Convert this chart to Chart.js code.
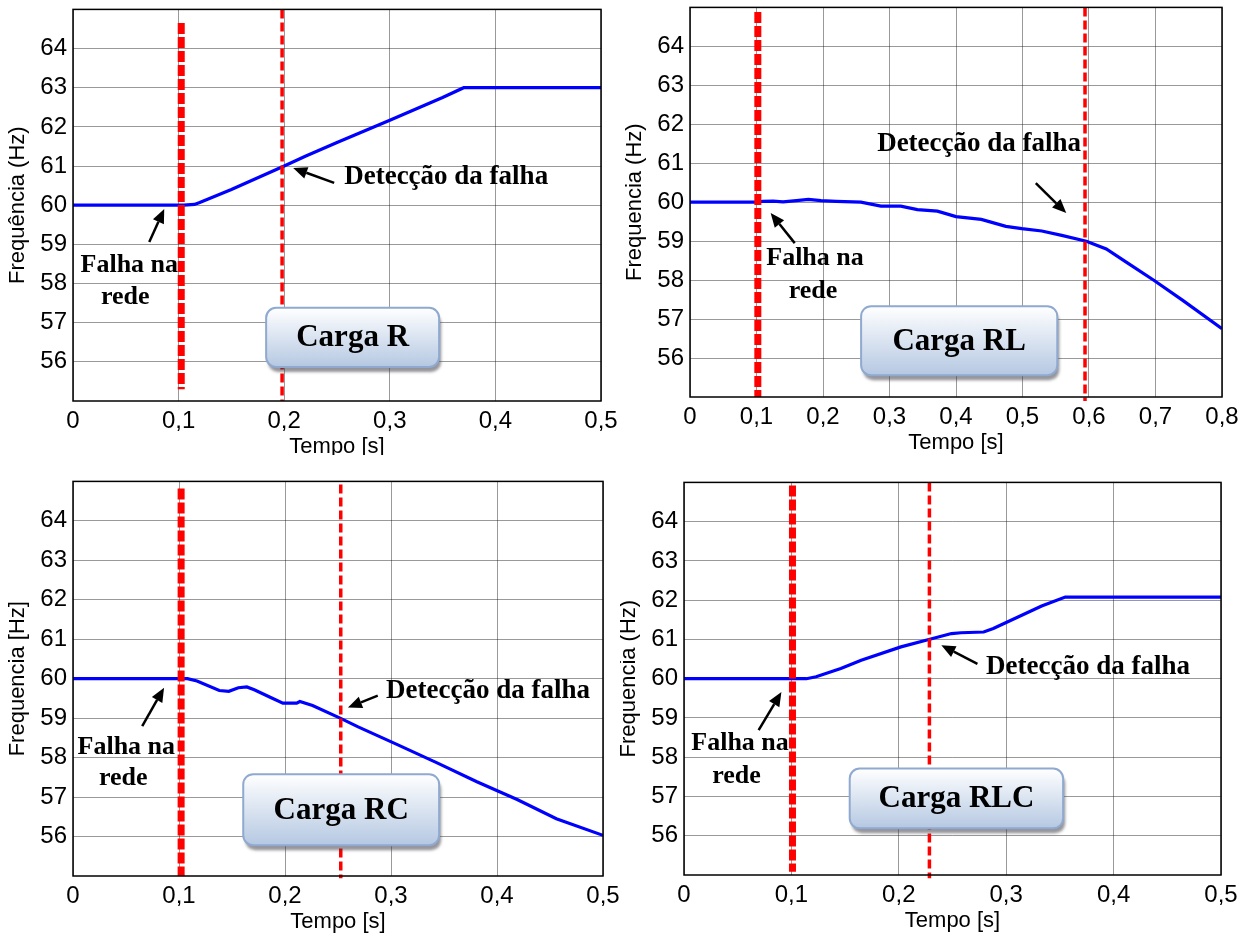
<!DOCTYPE html>
<html>
<head>
<meta charset="utf-8">
<script src="https://cdn.jsdelivr.net/npm/chart.js@4.4.1/dist/chart.umd.min.js"></script>
<style>
  body { margin: 0; background: #fff; width: 1246px; height: 935px; position: relative; overflow: hidden; }
  .panel { position: absolute; }
</style>
</head>
<body>
<div class="panel" style="left:0;top:-11px;width:625px;height:466px"><canvas id="c1"></canvas></div>
<div class="panel" style="left:620px;top:-13px;width:626px;height:473px"><canvas id="c2"></canvas></div>
<div class="panel" style="left:0;top:461px;width:627px;height:474px"><canvas id="c3"></canvas></div>
<div class="panel" style="left:620px;top:462px;width:626px;height:473px"><canvas id="c4"></canvas></div>
<script>
// frequency curves (time in s, frequency in Hz)
const tR = [0, 0.1, 0.105, 0.115, 0.12, 0.15, 0.2, 0.22, 0.25, 0.3, 0.35, 0.37, 0.5];
const fR = [60, 60, 60, 60.02, 60.07, 60.4, 61.0, 61.25, 61.6, 62.17, 62.75, 63.0, 63.0];

const tRL = [0, 0.1, 0.109, 0.125, 0.14, 0.16, 0.178, 0.197, 0.22, 0.257, 0.287, 0.317, 0.342, 0.372, 0.4,
  0.438, 0.475, 0.499, 0.529, 0.559, 0.596, 0.626, 0.656, 0.698, 0.741, 0.8];
const fRL = [60, 60, 60.02, 60.03, 60.01, 60.04, 60.07, 60.04, 60.02, 60.0, 59.9, 59.9, 59.81, 59.77, 59.63,
  59.56, 59.38, 59.32, 59.26, 59.15, 59.0, 58.8, 58.46, 57.99, 57.48, 56.75];

const tRC = [0, 0.102, 0.108, 0.117, 0.138, 0.147, 0.156, 0.164, 0.171, 0.186, 0.198, 0.211, 0.214, 0.226,
  0.252, 0.269, 0.306, 0.344, 0.381, 0.419, 0.456, 0.5];
const fRC = [60, 60, 60, 59.94, 59.7, 59.68, 59.77, 59.79, 59.72, 59.53, 59.38, 59.38, 59.42, 59.32,
  59.0, 58.78, 58.33, 57.86, 57.39, 56.94, 56.45, 56.03];

const tRLC = [0, 0.101, 0.114, 0.123, 0.146, 0.165, 0.202, 0.228, 0.249, 0.258, 0.279, 0.288, 0.314, 0.333, 0.355, 0.5];
const fRLC = [60, 60, 60, 60.05, 60.26, 60.47, 60.81, 61.0, 61.15, 61.17, 61.19, 61.28, 61.61, 61.85, 62.08, 62.08];

// vertical markers: grid fault and detection instant (one entry per panel)
const faultT   = [0.1025, 0.102, 0.102, 0.101];
const faultTop = [64.65, 64.88, 64.82, 64.92];
const faultBot = [55.3, 55.0, 55.0, 55.08];
const detT     = [0.198, 0.594, 0.2526, 0.2285];
const detTop   = [65.0, 65.0, 64.92, 65.0];
const detBot   = [55.0, 54.9, 54.94, 54.92];

// axis ticks
const yTicks = [56, 57, 58, 59, 60, 61, 62, 63, 64];
const xTicks5 = [0, 0.1, 0.2, 0.3, 0.4, 0.5];
const xLabels5 = ['0', '0,1', '0,2', '0,3', '0,4', '0,5'];
const xTicks8 = [0, 0.1, 0.2, 0.3, 0.4, 0.5, 0.6, 0.7, 0.8];
const xLabels8 = ['0', '0,1', '0,2', '0,3', '0,4', '0,5', '0,6', '0,7', '0,8'];

const panels = [
  { id: 'c1', t: tR, f: fR, xMax: 0.5, xt: xTicks5, xl: xLabels5, yTitle: 'Frequência (Hz)',
    yW: 73, xH: 54, padR: 24,
    note: { falha: [0.0533, 58.47], rede: [0.0495, 57.66], a1: [0.0722, 59.06, 0.0864, 59.9],
      det: [0.2568, 60.72], a2: [0.2473, 60.57, 0.2085, 60.95], box: [0.1829, 57.38, 0.3467, 55.87], label: 'Carga R' } },
  { id: 'c2', t: tRL, f: fRL, xMax: 0.8, xt: xTicks8, xl: xLabels8, yTitle: 'Frequencia (Hz)',
    yW: 70, xH: 63, padR: 24,
    note: { falha: [0.188, 58.56], rede: [0.185, 57.72], a1: [0.1575, 58.95, 0.1213, 59.72],
      det: [0.2814, 61.49], a2: [0.52, 60.49, 0.5658, 59.72], box: [0.2573, 57.33, 0.5523, 55.56], label: 'Carga RL' } },
  { id: 'c3', t: tRC, f: fRC, xMax: 0.5, xt: xTicks5, xl: xLabels5, yTitle: 'Frequencia [Hz]',
    yW: 73, xH: 59, padR: 24,
    note: { falha: [0.0503, 58.27], rede: [0.0474, 57.48], a1: [0.0653, 58.8, 0.0859, 59.77],
      det: [0.2954, 59.69], a2: [0.2875, 59.57, 0.2594, 59.27], box: [0.1606, 57.58, 0.3454, 55.78], label: 'Carga RC' } },
  { id: 'c4', t: tRLC, f: fRLC, xMax: 0.5, xt: xTicks5, xl: xLabels5, yTitle: 'Frequencia (Hz)',
    yW: 64, xH: 60, padR: 25,
    note: { falha: [0.0522, 58.36], rede: [0.0489, 57.52], a1: [0.0695, 58.69, 0.0907, 59.66],
      det: [0.2812, 60.30], a2: [0.2732, 60.38, 0.2396, 60.85], box: [0.1543, 57.71, 0.3530, 56.19], label: 'Carga RLC' } }
];

const serif = '"Liberation Serif", "Times New Roman", serif';
const sans = '"Liberation Sans", Arial, sans-serif';

function arrow(ctx, x1, y1, x2, y2) {
  const ang = Math.atan2(y2 - y1, x2 - x1);
  const hl = 14, hw = 6;
  const bx = x2 - hl * Math.cos(ang), by = y2 - hl * Math.sin(ang);
  ctx.beginPath();
  ctx.moveTo(x1, y1);
  ctx.lineTo(bx, by);
  ctx.lineWidth = 2.5;
  ctx.stroke();
  ctx.beginPath();
  ctx.moveTo(x2, y2);
  ctx.lineTo(bx + hw * Math.sin(ang), by - hw * Math.cos(ang));
  ctx.lineTo(bx - hw * Math.sin(ang), by + hw * Math.cos(ang));
  ctx.closePath();
  ctx.fill();
}

function roundRect(ctx, x, y, w, h, r) {
  ctx.beginPath();
  ctx.moveTo(x + r, y);
  ctx.arcTo(x + w, y, x + w, y + h, r);
  ctx.arcTo(x + w, y + h, x, y + h, r);
  ctx.arcTo(x, y + h, x, y, r);
  ctx.arcTo(x, y, x + w, y, r);
  ctx.closePath();
}

const deco = {
  id: 'deco',
  afterDatasetsDraw(chart, args, opts) {
    const { ctx, chartArea: a, scales: { x, y } } = chart;
    const n = opts.note;
    const px = v => x.getPixelForValue(v), py = v => y.getPixelForValue(v);
    ctx.save();
    // frame
    ctx.strokeStyle = '#000';
    ctx.lineWidth = 1.5;
    ctx.strokeRect(a.left, a.top, a.right - a.left, a.bottom - a.top);

    // annotations
    ctx.fillStyle = '#000';
    ctx.strokeStyle = '#000';
    ctx.font = 'bold 26px ' + serif;
    ctx.textBaseline = 'middle';
    ctx.textAlign = 'center';
    ctx.fillText('Falha na', px(n.falha[0]), py(n.falha[1]));
    ctx.fillText('rede', px(n.rede[0]), py(n.rede[1]));
    ctx.textAlign = 'left';
    ctx.font = 'bold 27px ' + serif;
    ctx.fillText('Detecção da falha', px(n.det[0]), py(n.det[1]));
    arrow(ctx, px(n.a1[0]), py(n.a1[1]), px(n.a1[2]), py(n.a1[3]));
    arrow(ctx, px(n.a2[0]), py(n.a2[1]), px(n.a2[2]), py(n.a2[3]));

    // "Carga" box
    const bx = px(n.box[0]), by = py(n.box[1]);
    const bw = px(n.box[2]) - bx, bh = py(n.box[3]) - by;
    ctx.save();
    ctx.shadowColor = 'rgba(60,60,70,0.55)';
    ctx.shadowOffsetX = 2;
    ctx.shadowOffsetY = 5;
    ctx.shadowBlur = 3;
    const g = ctx.createLinearGradient(0, by, 0, by + bh);
    g.addColorStop(0, '#ffffff');
    g.addColorStop(1, '#b5c8e2');
    ctx.fillStyle = g;
    roundRect(ctx, bx, by, bw, bh, 10);
    ctx.fill();
    ctx.restore();
    ctx.strokeStyle = '#8fa9cf';
    ctx.lineWidth = 2;
    roundRect(ctx, bx, by, bw, bh, 10);
    ctx.stroke();
    ctx.fillStyle = '#000';
    ctx.font = 'bold 31px ' + serif;
    ctx.textAlign = 'center';
    ctx.fillText(n.label, bx + bw / 2, by + bh / 2 + 1);

    // axis titles
    ctx.font = '22px ' + sans;
    ctx.fillText('Tempo [s]', (a.left + a.right) / 2, a.bottom + 46);
    ctx.translate(a.left - 55, (a.top + a.bottom) / 2);
    ctx.rotate(-Math.PI / 2);
    ctx.fillText(opts.yTitle, 0, 0);
    ctx.restore();
  }
};

panels.forEach((p, i) => {
  new Chart(document.getElementById(p.id), {
    type: 'line',
    data: {
      datasets: [
        {
          data: [{ x: faultT[i], y: faultTop[i] }, { x: faultT[i], y: faultBot[i] }],
          borderColor: '#ff0000', borderWidth: 7, borderDash: [11, 3],
          pointRadius: 0, clip: false, order: 1
        },
        {
          data: [{ x: detT[i], y: detTop[i] }, { x: detT[i], y: detBot[i] }],
          borderColor: '#ff0000', borderWidth: 3.5, borderDash: [9, 4],
          pointRadius: 0, clip: false, order: 2
        },
        {
          data: p.t.map((v, k) => ({ x: v, y: p.f[k] })),
          borderColor: '#0000ff', borderWidth: 3.2, pointRadius: 0, tension: 0, order: 3
        }
      ]
    },
    options: {
      responsive: true,
      maintainAspectRatio: false,
      animation: false,
      devicePixelRatio: 1,
      layout: { autoPadding: false, padding: { left: 0, top: 0, right: p.padR, bottom: 0 } },
      plugins: { legend: { display: false }, tooltip: { enabled: false }, deco: { note: p.note, yTitle: p.yTitle } },
      scales: {
        x: {
          type: 'linear', min: 0, max: p.xMax,
          afterBuildTicks: s => { s.ticks = p.xt.map(v => ({ value: v })); },
          afterFit: s => { s.height = p.xH; },
          ticks: { callback: (v, k) => p.xl[k], color: '#000', font: { family: sans, size: 24 }, padding: 6, maxRotation: 0, autoSkip: false },
          grid: { color: 'rgba(0,0,0,0.4)', lineWidth: 1, drawTicks: false },
          border: { display: false }
        },
        y: {
          type: 'linear', min: 55, max: 65,
          afterBuildTicks: s => { s.ticks = yTicks.map(v => ({ value: v })); },
          afterFit: s => { s.width = p.yW; },
          ticks: { callback: v => String(v), color: '#000', font: { family: sans, size: 24 }, padding: 6, autoSkip: false },
          grid: { color: 'rgba(0,0,0,0.4)', lineWidth: 1, drawTicks: false },
          border: { display: false }
        }
      }
    },
    plugins: [deco]
  });
});
</script>
</body>
</html>
